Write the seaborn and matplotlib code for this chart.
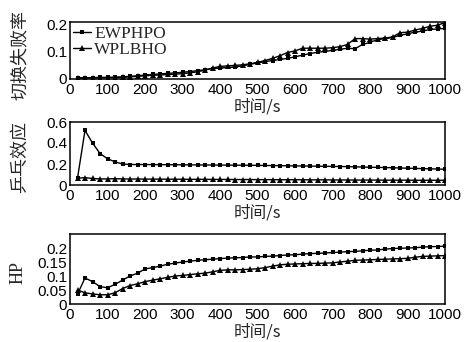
import numpy as np
import pandas as pd
import matplotlib
matplotlib.use("Agg")
import matplotlib.pyplot as plt
import seaborn as sns

time_s = list(range(20, 1001, 20))

fail_ewphpo = [0.002, 0.002, 0.002, 0.003, 0.003, 0.004, 0.005, 0.007, 0.009, 0.012,
               0.014, 0.016, 0.018, 0.020, 0.022, 0.025, 0.028, 0.032, 0.036, 0.038,
               0.040, 0.042, 0.046, 0.052, 0.057, 0.062, 0.066, 0.070, 0.074, 0.080,
               0.086, 0.092, 0.097, 0.100, 0.104, 0.108, 0.112, 0.110, 0.126, 0.134,
               0.144, 0.148, 0.152, 0.160, 0.166, 0.172, 0.176, 0.182, 0.184, 0.186]
fail_wplbho = [0.001, 0.001, 0.001, 0.002, 0.002, 0.002, 0.003, 0.005, 0.007, 0.009,
               0.011, 0.012, 0.014, 0.015, 0.017, 0.020, 0.024, 0.030, 0.038, 0.044,
               0.046, 0.048, 0.050, 0.054, 0.059, 0.066, 0.074, 0.084, 0.096, 0.102,
               0.112, 0.112, 0.112, 0.112, 0.114, 0.118, 0.126, 0.148, 0.148, 0.146,
               0.148, 0.150, 0.154, 0.170, 0.172, 0.180, 0.186, 0.194, 0.198, 0.208]

pp_ewphpo = [0.065, 0.52, 0.40, 0.30, 0.25, 0.22, 0.20, 0.195, 0.195, 0.195,
             0.194, 0.194, 0.193, 0.193, 0.192, 0.192, 0.191, 0.191, 0.190, 0.190,
             0.189, 0.189, 0.188, 0.188, 0.187, 0.186, 0.185, 0.184, 0.183, 0.182,
             0.181, 0.180, 0.179, 0.178, 0.177, 0.176, 0.175, 0.173, 0.171, 0.169,
             0.168, 0.166, 0.164, 0.162, 0.160, 0.158, 0.156, 0.154, 0.152, 0.150]
pp_wplbho = [0.065, 0.070, 0.062, 0.058, 0.058, 0.060, 0.058, 0.057, 0.057, 0.056,
             0.056, 0.056, 0.055, 0.055, 0.055, 0.054, 0.054, 0.054, 0.053, 0.053,
             0.053, 0.052, 0.052, 0.052, 0.051, 0.051, 0.051, 0.050, 0.050, 0.050,
             0.050, 0.049, 0.049, 0.049, 0.048, 0.048, 0.048, 0.047, 0.047, 0.047,
             0.047, 0.046, 0.046, 0.046, 0.046, 0.045, 0.045, 0.045, 0.045, 0.045]

hp_ewphpo = [0.035, 0.093, 0.080, 0.062, 0.058, 0.070, 0.085, 0.100, 0.110, 0.125,
             0.130, 0.135, 0.142, 0.146, 0.150, 0.153, 0.156, 0.158, 0.160, 0.162,
             0.164, 0.165, 0.166, 0.168, 0.168, 0.170, 0.171, 0.173, 0.175, 0.176,
             0.178, 0.180, 0.181, 0.182, 0.184, 0.185, 0.187, 0.188, 0.190, 0.192,
             0.193, 0.196, 0.198, 0.199, 0.200, 0.201, 0.203, 0.205, 0.205, 0.207]
hp_wplbho = [0.050, 0.040, 0.036, 0.033, 0.033, 0.040, 0.055, 0.066, 0.072, 0.080,
             0.085, 0.090, 0.095, 0.100, 0.102, 0.105, 0.108, 0.110, 0.115, 0.120,
             0.122, 0.122, 0.123, 0.124, 0.126, 0.130, 0.135, 0.140, 0.142, 0.143,
             0.144, 0.145, 0.145, 0.146, 0.147, 0.150, 0.153, 0.156, 0.157, 0.158,
             0.159, 0.160, 0.161, 0.162, 0.163, 0.167, 0.170, 0.171, 0.172, 0.173]

series_names = ["EWPHPO", "WPLBHO"]
x_ticks = [0, 100, 200, 300, 400, 500, 600, 700, 800, 900, 1000]
xlabel = "时间/s"

sns.set_theme(style="white")
plt.rcParams['font.family'] = ['Liberation Sans', 'Noto Sans CJK SC', 'DejaVu Sans']
plt.rcParams['axes.unicode_minus'] = False

fig = plt.figure(figsize=(4.68, 3.42), dpi=100)
W, H = 468, 342
def box(l, t, r, b):
    return [l / W, 1 - b / H, (r - l) / W, (b - t) / H]

ax1 = fig.add_axes(box(70, 22, 445, 79))
ax2 = fig.add_axes(box(70, 122, 445, 185))
ax3 = fig.add_axes(box(70, 234, 445, 304))

panels = [
    (ax1, fail_ewphpo, fail_wplbho, "切换失败率", (-0.003, 0.21), [0, 0.1, 0.2], ["0", "0.1", "0.2"]),
    (ax2, pp_ewphpo, pp_wplbho, "乒乓效应", (0, 0.6), [0, 0.2, 0.4, 0.6], ["0", "0.2", "0.4", "0.6"]),
    (ax3, hp_ewphpo, hp_wplbho, "HP", (0, 0.25), [0, 0.05, 0.1, 0.15, 0.2], ["0", "0.05", "0.1", "0.15", "0.2"]),
]

cjk = ['Noto Sans CJK SC', 'DejaVu Sans']
for ax, e, w, ylab, ylim, yt, ytl in panels:
    sns.lineplot(x=time_s, y=e, ax=ax, color="black", marker="s", markersize=3.5,
                 markeredgewidth=0, linewidth=1.0, label=series_names[0], legend=False)
    sns.lineplot(x=time_s, y=w, ax=ax, color="black", marker="^", markersize=4,
                 markeredgewidth=0, linewidth=1.0, label=series_names[1], legend=False)
    ax.set_xlim(0, 1000)
    ax.set_ylim(*ylim)
    ax.set_xticks(x_ticks)
    ax.set_xticklabels([str(t) for t in x_ticks], fontsize=11)
    ax.set_yticks(yt)
    ax.set_yticklabels(ytl, fontsize=11)
    ax.tick_params(direction="in", length=4, width=1, colors="black")
    ax.tick_params(axis="x", pad=3)
    ax.tick_params(axis="y", pad=2)
    for s in ax.spines.values():
        s.set_color("black")
        s.set_linewidth(1.1)
    ax.set_xlabel(xlabel, fontsize=12, family=cjk, labelpad=1)
    if ylab == "HP":
        ax.set_ylabel(ylab, fontsize=13, family=['Liberation Serif'])
    else:
        ax.set_ylabel(ylab, fontsize=13, family=cjk)

ax1.yaxis.set_label_coords(-0.11, 0.42)
ax2.yaxis.set_label_coords(-0.11, 0.45)
ax3.yaxis.set_label_coords(-0.115, 0.45)

leg = ax1.legend(loc="upper left", frameon=False, prop={'family': 'Liberation Serif', 'size': 12.5},
                 handlelength=1.0, handletextpad=0.2, borderaxespad=0.1, labelspacing=0.0,
                 borderpad=0.1)

fig.savefig("out.png", dpi=100)
